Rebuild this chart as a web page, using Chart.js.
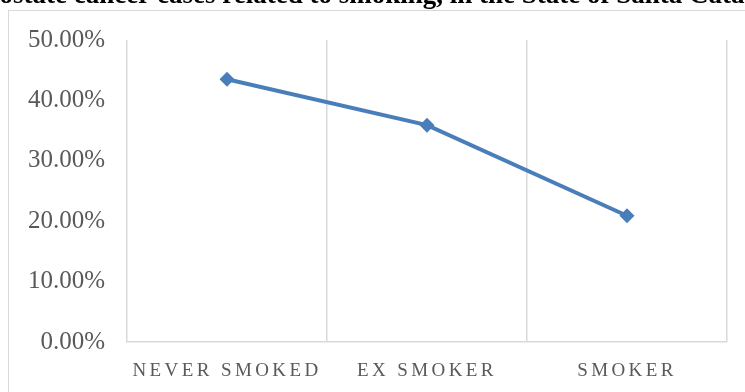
<!DOCTYPE html>
<html>
<head>
<meta charset="utf-8">
<script src="https://cdn.jsdelivr.net/npm/chart.js@4/dist/chart.umd.min.js"></script>
<style>
  html, body { margin: 0; padding: 0; background: #fff; overflow: hidden; width: 745px; height: 392px; }
  .frame { position: absolute; left: 8px; top: 10px; width: 800px; height: 420px; border: 1px solid #d9d9d9; box-sizing: border-box; }
  .wrap { position: absolute; left: 0; top: 0; width: 745px; height: 392px; }
</style>
</head>
<body>
<div class="frame"></div>
<div class="wrap"><canvas id="c"></canvas></div>
<script>
'use strict';

/* ── data ── */
const categories = ['NEVER SMOKED', 'EX SMOKER', 'SMOKER'];
const shareValues = [43.5, 35.9, 20.9];          // % of cases
const yTicks = [0, 10, 20, 30, 40, 50];
const titleText = 'Prostate cancer cases related to smoking, in the State of Santa Catarina';

const GRID = '#d9d9d9';
const TXT  = '#595959';
const BLUE = '#4a7ebb';

// spaced-out capitals on the category axis
const spacedLabels = {
  id: 'spacedLabels',
  beforeDraw(chart) {
    const sc = chart.scales.x;
    if (!sc || sc._spaced) return;
    const orig = sc.drawLabels.bind(sc);
    sc.drawLabels = function (area) {
      const ctx = chart.ctx;
      const prev = ctx.letterSpacing;
      ctx.letterSpacing = '3.4px';
      orig(area);
      ctx.letterSpacing = prev || '0px';
    };
    sc._spaced = true;
  }
};

// the heading is cropped off at the top of the picture; the stock title
// plugin squeezes text to fit, so draw it unconstrained
const croppedTitle = {
  id: 'croppedTitle',
  afterDraw(chart) {
    const ctx = chart.ctx;
    ctx.save();
    ctx.font = 'bold 27px "Liberation Serif"';
    ctx.fillStyle = '#000';
    ctx.textAlign = 'center';
    ctx.textBaseline = 'alphabetic';
    ctx.fillText(titleText, 382, 3);
    ctx.restore();
  }
};

new Chart(document.getElementById('c'), {
  type: 'line',
  data: {
    labels: categories,
    datasets: [{
      data: shareValues,
      borderColor: BLUE,
      backgroundColor: BLUE,
      borderWidth: 4,
      pointStyle: 'rectRot',
      pointRadius: 7.5,
      pointBorderWidth: 0,
      pointBackgroundColor: BLUE,
      tension: 0
    }]
  },
  options: {
    responsive: true,
    maintainAspectRatio: false,
    animation: false,
    layout: { padding: { top: 40, right: 18, bottom: 0, left: 0 } },
    plugins: {
      legend: { display: false },
      tooltip: { enabled: false },
      title: { display: false }
    },
    scales: {
      x: {
        offset: true,
        grid: { display: true, color: GRID, lineWidth: 1.5, drawTicks: false, offset: true },
        border: { display: true, color: GRID, width: 1.5 },
        ticks: { color: TXT, font: { family: 'Liberation Serif', size: 19 }, padding: 18, maxRotation: 0 },
        afterFit: s => { s.height = 50; }
      },
      y: {
        min: 0, max: 50,
        afterBuildTicks: s => { s.ticks = yTicks.map(v => ({ value: v })); },
        grid: { display: false, drawTicks: false },
        border: { display: false },
        ticks: {
          color: TXT,
          font: { family: 'Liberation Serif', size: 25 },
          padding: 22,
          callback: v => v.toFixed(2) + '%'
        },
        afterFit: s => { s.width = 127; }
      }
    }
  },
  plugins: [spacedLabels, croppedTitle]
});
</script>
</body>
</html>
